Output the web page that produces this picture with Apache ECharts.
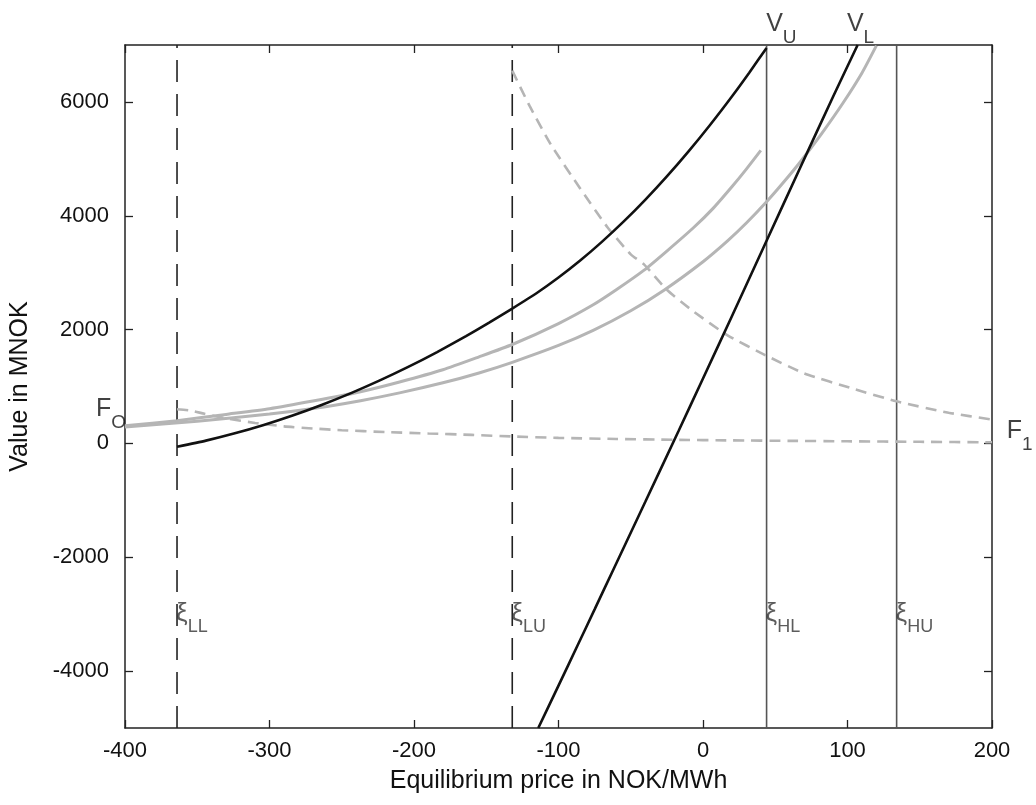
<!DOCTYPE html>
<html>
<head>
<meta charset="utf-8">
<script src="https://cdn.jsdelivr.net/npm/echarts@6/dist/echarts.min.js"></script>
<style>html,body{margin:0;padding:0;background:#fff;}#c{width:1036px;height:805px;}</style>
</head>
<body>
<div id="c"></div>
<script>
// ---- data ----
const xTicks = [-400, -300, -200, -100, 0, 100, 200];
const yTicks = [-4000, -2000, 0, 2000, 4000, 6000];

// V_U (black, convex)
const vU = [[-364,-60],[-344,49],[-324,178],[-304,325],[-284,491],[-264,676],[-244,880],[-224,1103],[-204,1344],[-184,1605],[-164,1884],[-148,2121],[-132,2370],[-115,2643],[-100,2914],[-85,3213],[-70,3541],[-55,3896],[-40,4280],[-25,4692],[-10,5132],[5,5600],[20,6096],[32,6514],[44,6949]];
// V_L (black, steep)
const vL = [[-114,-5000],[-100,-4255],[-87,-3560],[-75,-2915],[-62,-2215],[-40,-1030],[-17,215],[0,1140],[20,2235],[44,3560],[67,4830],[90,6090],[107,7000]];
// grey solid curves
const g1 = [[-400,310],[-364,400],[-330,510],[-300,610],[-270,745],[-237,909],[-210,1080],[-180,1294],[-155,1520],[-132,1738],[-100,2106],[-76,2436],[-60,2700],[-41,3040],[-25,3380],[-7,3780],[7,4130],[20,4509],[30,4820],[40,5149]];
const g2 = [[-400,290],[-350,390],[-300,515],[-270,612],[-237,751],[-210,888],[-180,1065],[-155,1238],[-132,1425],[-100,1721],[-76,1985],[-50,2330],[-27,2692],[0,3192],[17,3558],[30,3872],[44,4246],[55,4566],[67,4936],[82,5440],[97,5986],[110,6510],[120,6990]];
// grey dashed curves
const d0 = [[-364,600],[-355,580],[-345,520],[-330,440],[-310,360],[-290,300],[-270,262],[-250,232],[-220,200],[-190,175],[-160,150],[-132,122],[-100,98],[-60,78],[-20,64],[20,53],[60,45],[100,37],[150,28],[200,20]];
const d1 = [[-132,6550],[-120,5930],[-105,5240],[-85,4480],[-66,3795],[-50,3322],[-41,3150],[-25,2700],[-7,2327],[17,1900],[44,1540],[70,1231],[104,960],[134,740],[170,539],[200,420]];

// threshold prices
const xiPos = [-364, -132, 44, 134];
const xiSubs = ['LL', 'LU', 'HL', 'HU'];
const xiDashed = [true, true, false, false];

const yMin = -5000, yMax = 7000;

const chart = echarts.init(document.getElementById('c'), null, {renderer: 'canvas'});
const FONT = 'Liberation Sans, Arial, Helvetica, sans-serif';

const series = [];
xiPos.forEach((x, i) => {
  series.push({
    type: 'line', showSymbol: false, silent: true,
    data: [[x, yMin], [x, yMax]],
    lineStyle: xiDashed[i]
      ? {color: '#222', width: 1.6, type: [22, 12]}
      : {color: '#555', width: 1.6, type: 'solid'},
    z: 1
  });
});
const grey = '#b5b5b5';
series.push({type: 'line', data: g1, showSymbol: false, smooth: 0.2, lineStyle: {color: grey, width: 3}, z: 2});
series.push({type: 'line', data: g2, showSymbol: false, smooth: 0.2, lineStyle: {color: grey, width: 3}, z: 2});
series.push({type: 'line', data: d0, showSymbol: false, smooth: 0.2, lineStyle: {color: grey, width: 2.6, type: [11, 7]}, z: 2});
series.push({type: 'line', data: d1, showSymbol: false, smooth: 0.2, lineStyle: {color: grey, width: 2.6, type: [11, 7]}, z: 2});
series.push({type: 'line', data: vU, showSymbol: false, smooth: 0.2, lineStyle: {color: '#111', width: 2.6}, z: 3});
series.push({type: 'line', data: vL, showSymbol: false, smooth: 0.2, lineStyle: {color: '#111', width: 2.6}, z: 3});

// main glyph at the top of a tall line box, subscript at its bottom
function rich(main, sub, boxH, color) {
  return {
    m: {fontSize: main, fontFamily: FONT, color: color, lineHeight: main, verticalAlign: 'top'},
    s: {fontSize: sub, fontFamily: FONT, color: color, lineHeight: boxH, verticalAlign: 'bottom'}
  };
}
// xi labels (anchored on each threshold line)
series.push({
  type: 'scatter', symbolSize: 0, silent: true, clip: false,
  data: xiPos.map((x, i) => ({value: [x - 0.7, -3076], sub: xiSubs[i]})),
  label: {
    show: true, position: 'right', distance: 0,
    formatter: p => '{m|ξ}{s|' + p.data.sub + '}',
    rich: rich(26, 18, 35, '#333')
  }
});
// curve name labels
const curveLabels = [
  {value: [43.7, 7279], t: '{m|V}{s|U}'},
  {value: [99.6, 7279], t: '{m|V}{s|L}'},
  {value: [-420, 507], t: '{m|F}{s|O}'},
  {value: [210.2, 122], t: '{m|F}{s|1}'}
];
series.push({
  type: 'scatter', symbolSize: 0, silent: true, clip: false,
  data: curveLabels.map(d => ({value: d.value, t: d.t})),
  label: {show: true, position: 'right', distance: 0, formatter: p => p.data.t, rich: rich(25, 19, 36, '#111')}
});

const axCommon = {
  type: 'value', splitLine: {show: false},
  axisLine: {show: true, onZero: false, lineStyle: {color: '#222', width: 1.5}},
  axisTick: {show: true, inside: true, length: 8, lineStyle: {color: '#222', width: 1.3}}
};

chart.setOption({
  animation: false,
  backgroundColor: '#fff',
  grid: {left: 124, right: 44, top: 45, bottom: 77, containLabel: false},
  xAxis: [
    Object.assign({}, axCommon, {
      min: -400, max: 200, interval: 100, position: 'bottom',
      name: 'Equilibrium price in NOK/MWh', nameLocation: 'middle', nameGap: 41,
      nameTextStyle: {fontSize: 25, fontFamily: FONT, color: '#111'},
      axisLabel: {show: true, margin: 12, fontSize: 22, fontFamily: FONT, color: '#111',
        customValues: xTicks, formatter: v => String(v)}
    }),
    Object.assign({}, axCommon, {
      min: -400, max: 200, interval: 100, position: 'top',
      axisLabel: {show: false}
    })
  ],
  yAxis: [
    Object.assign({}, axCommon, {
      min: yMin, max: yMax, position: 'left',
      name: 'Value in MNOK', nameLocation: 'middle', nameGap: 92, nameRotate: 90,
      nameTextStyle: {fontSize: 25, fontFamily: FONT, color: '#111'},
      axisTick: Object.assign({}, axCommon.axisTick, {customValues: yTicks}),
      axisLabel: {show: true, margin: 16, fontSize: 22, fontFamily: FONT, color: '#111',
        customValues: yTicks, formatter: v => String(v)}
    }),
    Object.assign({}, axCommon, {
      min: yMin, max: yMax, position: 'right',
      axisTick: Object.assign({}, axCommon.axisTick, {customValues: yTicks}),
      axisLabel: {show: false, customValues: yTicks}
    })
  ],
  series: series
});
</script>
</body>
</html>
